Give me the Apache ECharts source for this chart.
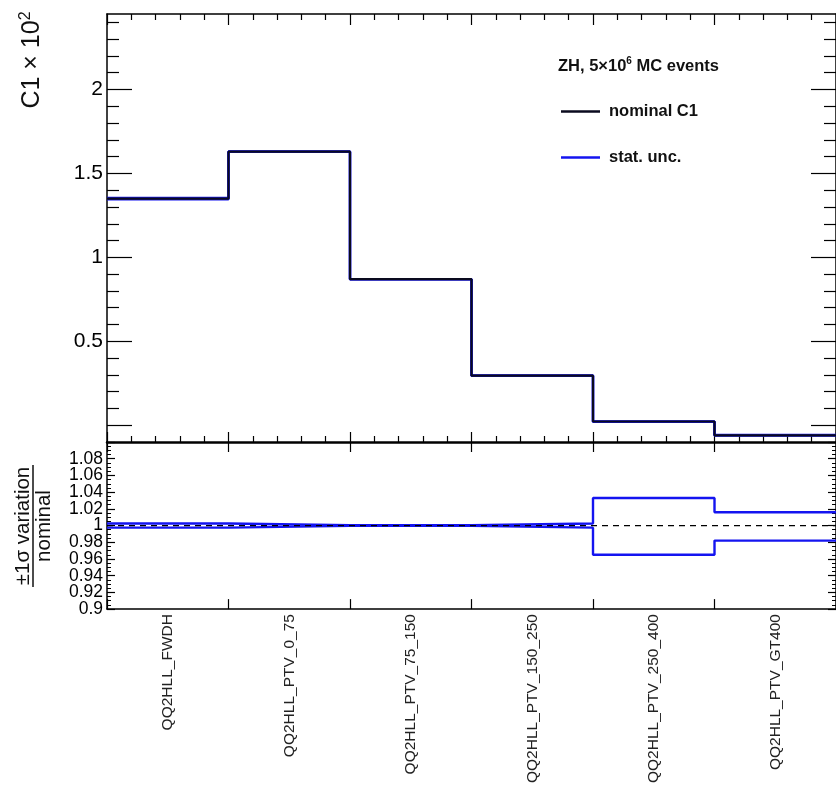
<!DOCTYPE html>
<html>
<head>
<meta charset="utf-8">
<script src="https://cdn.jsdelivr.net/npm/echarts@6/dist/echarts.min.js"></script>
<style>
  html, body { margin: 0; padding: 0; background: #fff; }
  #chart { width: 836px; height: 786px; }
</style>
</head>
<body>
<div id="chart"></div>
<script>
// STXS bins of the ZH(->ll) production mode
const binNames = [
  'QQ2HLL_FWDH',
  'QQ2HLL_PTV_0_75',
  'QQ2HLL_PTV_75_150',
  'QQ2HLL_PTV_150_250',
  'QQ2HLL_PTV_250_400',
  'QQ2HLL_PTV_GT400'
];
// C1 coefficient (x 10^2) per bin
const nominalC1 = [1.35, 1.63, 0.87, 0.295, 0.022, -0.06];
// +/- 1 sigma statistical variation divided by nominal
const statUpRatio = [1.0025, 1.0004, 1.0004, 1.0025, 1.033, 1.016];
const statDownRatio = [0.9975, 0.9996, 0.9996, 0.9975, 0.965, 0.982];
const unityRatio = 1;
// labelled ticks (ratio labels are packed tightly, so they are split over two axes)
const c1TickLabels = [0.5, 1, 1.5, 2];
const ratioTickLabelsA = [0.9, 0.94, 0.98, 1.02, 1.06];
const ratioTickLabelsB = [0.92, 0.96, 1, 1.04, 1.08];

const FONT = "'Liberation Sans', Arial, Helvetica, sans-serif";
const nBins = binNames.length;

// histogram outline: one point per bin edge, held flat across each bin
function stepPoints(vals) {
  const pts = vals.map((v, i) => [i, v]);
  pts.push([vals.length, vals[vals.length - 1]]);
  return pts;
}

function range(from, to, step, skipEvery) {
  const out = [];
  const n = Math.round((to - from) / step);
  for (let i = 0; i <= n; i++) {
    if (skipEvery && i % skipEvery === 0) continue;
    out.push(+(from + i * step).toFixed(6));
  }
  return out;
}

const binEdges = range(0, nBins, 1);
const binMinor = range(0, nBins, 0.2, 5);
const binCentres = binNames.map((_, i) => i + 0.5);
const c1Major = range(0, 2, 0.5);
const c1Minor = range(0, 2.4, 0.1, 5);
const ratioMajor = range(0.9, 1.1, 0.02);
const ratioMinor = range(0.9, 1.1, 0.005, 4);

const statUpC1 = nominalC1.map((v, i) => v * statUpRatio[i]);
const statDownC1 = nominalC1.map((v, i) => v * statDownRatio[i]);

const BLUE = '#1414f0';
const INK = '#000';

const noLine = { show: false, onZero: false };
function xAx(grid, pos, opts) {
  return Object.assign({
    type: 'value', gridIndex: grid, position: pos, min: 0, max: nBins,
    splitLine: { show: false },
    axisLine: noLine,
    axisLabel: { show: false },
    axisTick: { show: false }
  }, opts);
}
function yAx(grid, pos, min, max, opts) {
  return Object.assign({
    type: 'value', gridIndex: grid, position: pos, min: min, max: max,
    splitLine: { show: false },
    axisLine: noLine,
    axisLabel: { show: false },
    axisTick: { show: false }
  }, opts);
}
const tick = (vals, len, w) => ({ show: true, inside: true, length: len, customValues: vals,
  lineStyle: { color: INK, width: w || 1.2 } });
const line = (w) => ({ show: true, onZero: false, lineStyle: { color: INK, width: w } });
const ratioLabels = (vals) => ({
  show: true, customValues: vals, margin: 4, fontFamily: FONT,
  fontSize: 17.5, lineHeight: 14, color: INK, hideOverlap: false,
  showMinLabel: true, showMaxLabel: true,
  formatter: v => String(+v.toFixed(2))
});

const xAxes = [
  // upper pad
  xAx(0, 'bottom', { axisLine: line(2.5), axisTick: tick(binEdges, 10) }),
  xAx(0, 'bottom', { axisTick: tick(binMinor, 6) }),
  xAx(0, 'top', { axisLine: line(1.5), axisTick: tick(binEdges, 11) }),
  xAx(0, 'top', { axisTick: tick(binMinor, 6) }),
  // ratio pad
  xAx(1, 'bottom', {
    axisLine: line(1.5), axisTick: tick(binEdges, 10),
    axisLabel: {
      show: true, customValues: binCentres, rotate: 90, margin: 5,
      fontFamily: FONT, fontSize: 15.5, color: '#222', hideOverlap: false,
      formatter: v => binNames[Math.floor(v)]
    }
  }),
  xAx(1, 'top', { axisTick: tick(binEdges, 10) })
];

const yAxes = [
  yAx(0, 'left', -0.1, 2.45, {
    axisLine: line(1.5), axisTick: tick(c1Major, 25),
    axisLabel: { show: true, customValues: c1TickLabels, margin: 4, fontFamily: FONT,
      fontSize: 21, color: INK, hideOverlap: false, formatter: v => String(v) }
  }),
  yAx(0, 'left', -0.1, 2.45, { axisTick: tick(c1Minor, 12) }),
  yAx(0, 'right', -0.1, 2.45, { axisLine: line(1.5), axisTick: tick(c1Major, 25) }),
  yAx(0, 'right', -0.1, 2.45, { axisTick: tick(c1Minor, 12) }),
  yAx(1, 'left', 0.9, 1.1, {
    axisLine: line(1.5), axisTick: tick(ratioMajor, 8),
    axisLabel: ratioLabels(ratioTickLabelsA)
  }),
  yAx(1, 'left', 0.9, 1.1, { axisTick: tick(ratioMinor, 4, 1), axisLabel: ratioLabels(ratioTickLabelsB) }),
  yAx(1, 'right', 0.9, 1.1, { axisLine: line(1.5), axisTick: tick(ratioMajor, 8) }),
  yAx(1, 'right', 0.9, 1.1, { axisTick: tick(ratioMinor, 4, 1) })
];

function stepSeries(name, vals, xi, yi, color, width, z) {
  return {
    name: name, type: 'line', step: 'end', data: stepPoints(vals),
    xAxisIndex: xi, yAxisIndex: yi, symbol: 'none', z: z,
    lineStyle: { color: color, width: width }, itemStyle: { color: color },
    animation: false, silent: true
  };
}

const option = {
  animation: false,
  backgroundColor: '#fff',
  textStyle: { fontFamily: FONT },
  grid: [
    { left: 107, top: 14, width: 731, height: 428 },
    { left: 107, top: 442, width: 731, height: 168 }
  ],
  xAxis: xAxes,
  yAxis: yAxes,
  title: {
    left: 553, top: 51,
    text: '{a|ZH, 5×10}{s|6}{a| MC events}',
    textStyle: {
      rich: {
        a: { fontFamily: FONT, fontWeight: 'bold', fontSize: 16.5, color: '#111' },
        s: { fontFamily: FONT, fontWeight: 'bold', fontSize: 10, color: '#111', padding: [0, 0, 10, 0] }
      }
    }
  },
  legend: {
    left: 561, top: 103, orient: 'vertical', itemGap: 29, padding: 0,
    itemWidth: 39, itemHeight: 2.5, icon: 'rect',
    data: ['nominal C1', 'stat. unc.'],
    textStyle: { fontFamily: FONT, fontWeight: 'bold', fontSize: 16.5, color: '#111', padding: [0, 0, 0, 4] }
  },
  series: [
    stepSeries('stat. unc.', statUpC1, 0, 0, BLUE, 2.5, 2),
    stepSeries('stat. unc.', statDownC1, 0, 0, BLUE, 2.5, 2),
    stepSeries('nominal C1', nominalC1, 0, 0, '#0a0a1e', 2.2, 3),
    stepSeries('stat. unc.', statUpRatio, 4, 4, BLUE, 2.4, 2),
    stepSeries('stat. unc.', statDownRatio, 4, 4, BLUE, 2.4, 2),
    {
      type: 'line', xAxisIndex: 4, yAxisIndex: 4, symbol: 'none', z: 4, silent: true,
      data: [[0, unityRatio], [nBins, unityRatio]],
      lineStyle: { color: '#000', width: 1.3, type: [6, 5] }
    }
  ],
  graphic: [
    {
      type: 'text', x: 32, y: 60, rotation: Math.PI / 2,
      style: {
        text: 'C1 × 10{s|2}', fontFamily: FONT, fontSize: 25, fill: '#111',
        align: 'center', verticalAlign: 'middle',
        rich: { s: { fontFamily: FONT, fontSize: 16, fill: '#111', padding: [0, 0, 13, 0] } }
      }
    },
    {
      type: 'text', x: 23, y: 526, rotation: Math.PI / 2,
      style: { text: '±1σ variation', fontFamily: FONT, fontSize: 20.5, fill: '#111',
        align: 'center', verticalAlign: 'middle' }
    },
    {
      type: 'line', shape: { x1: 33, y1: 465, x2: 33, y2: 587 },
      style: { stroke: '#111', lineWidth: 1.5 }
    },
    {
      type: 'text', x: 44, y: 526, rotation: Math.PI / 2,
      style: { text: 'nominal', fontFamily: FONT, fontSize: 20.5, fill: '#111',
        align: 'center', verticalAlign: 'middle' }
    }
  ]
};

const chart = echarts.init(document.getElementById('chart'), null, { renderer: 'canvas' });
chart.setOption(option);
</script>
</body>
</html>
